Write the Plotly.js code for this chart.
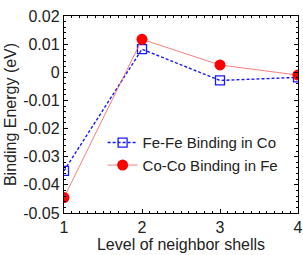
<!DOCTYPE html>
<html>
<head>
<meta charset="utf-8">
<script src="https://cdn.plot.ly/plotly-3.0.1.min.js"></script>
<style>html,body{margin:0;padding:0;background:#fff;}#chart{width:303px;height:255px;}</style>
</head>
<body>
<div id="chart"></div>
<script>
// Neighbor shell levels and binding energies (eV)
const shells = [1, 2, 3, 4];
const feFeInCo = [-0.035, 0.0082, -0.0029, -0.0018];
const coCoInFe = [-0.0445, 0.0117, 0.0026, -0.0010];
const xTicks = [1, 2, 3, 4];
const yTicks = [-0.05, -0.04, -0.03, -0.02, -0.01, 0, 0.01, 0.02];
const yTickText = ['-0.05', '-0.04', '-0.03', '-0.02', '-0.01', '0', '0.01', '0.02'];

const font = 'Liberation Sans, Arial, sans-serif';

const traces = [
  {
    x: shells, y: feFeInCo, name: 'Fe-Fe Binding in Co',
    mode: 'lines+markers',
    line: {color: '#1a1aff', width: 1.4, dash: '3px,2px'},
    marker: {symbol: 'square-open', size: 9, color: '#1a1aff', line: {width: 1.3}}
  },
  {
    x: shells, y: coCoInFe, name: 'Co-Co Binding in Fe',
    mode: 'lines+markers',
    line: {color: '#f26060', width: 0.8},
    marker: {symbol: 'circle', size: 11, color: '#ff0000'}
  }
];

const axisCommon = {
  showline: true, linecolor: '#000', linewidth: 1.2, mirror: 'allticks',
  ticks: 'inside', ticklen: 4, tickcolor: '#000', tickwidth: 1,
  showgrid: false, zeroline: false,
  tickfont: {family: font, size: 16, color: '#222'}
};

const layout = {
  width: 303, height: 255,
  margin: {l: 64, r: 5, t: 16, b: 42},
  paper_bgcolor: '#fff', plot_bgcolor: '#fff',
  showlegend: true,
  legend: {
    x: 0.165, y: 0.44, xanchor: 'left', yanchor: 'top',
    bgcolor: 'rgba(0,0,0,0)', font: {family: font, size: 15, color: '#222'},
    tracegroupgap: 0, itemwidth: 30
  },
  xaxis: Object.assign({}, axisCommon, {
    range: [1, 4], tickvals: xTicks, ticktext: xTicks.map(String),
    minor: {ticks: 'inside', ticklen: 2, dtick: 0.1, tickcolor: '#000'},
    title: {text: 'Level of neighbor shells', font: {family: font, size: 16, color: '#222'}, standoff: 3}
  }),
  yaxis: Object.assign({}, axisCommon, {
    range: [-0.05, 0.02], tickvals: yTicks, ticktext: yTickText,
    minor: {ticks: 'inside', ticklen: 2, dtick: 0.002, tickcolor: '#000'},
    title: {text: 'Binding Energy (eV)', font: {family: font, size: 16, color: '#222'}, standoff: 2}
  })
};

Plotly.newPlot('chart', traces, layout, {displayModeBar: false, staticPlot: true});
</script>
</body>
</html>
